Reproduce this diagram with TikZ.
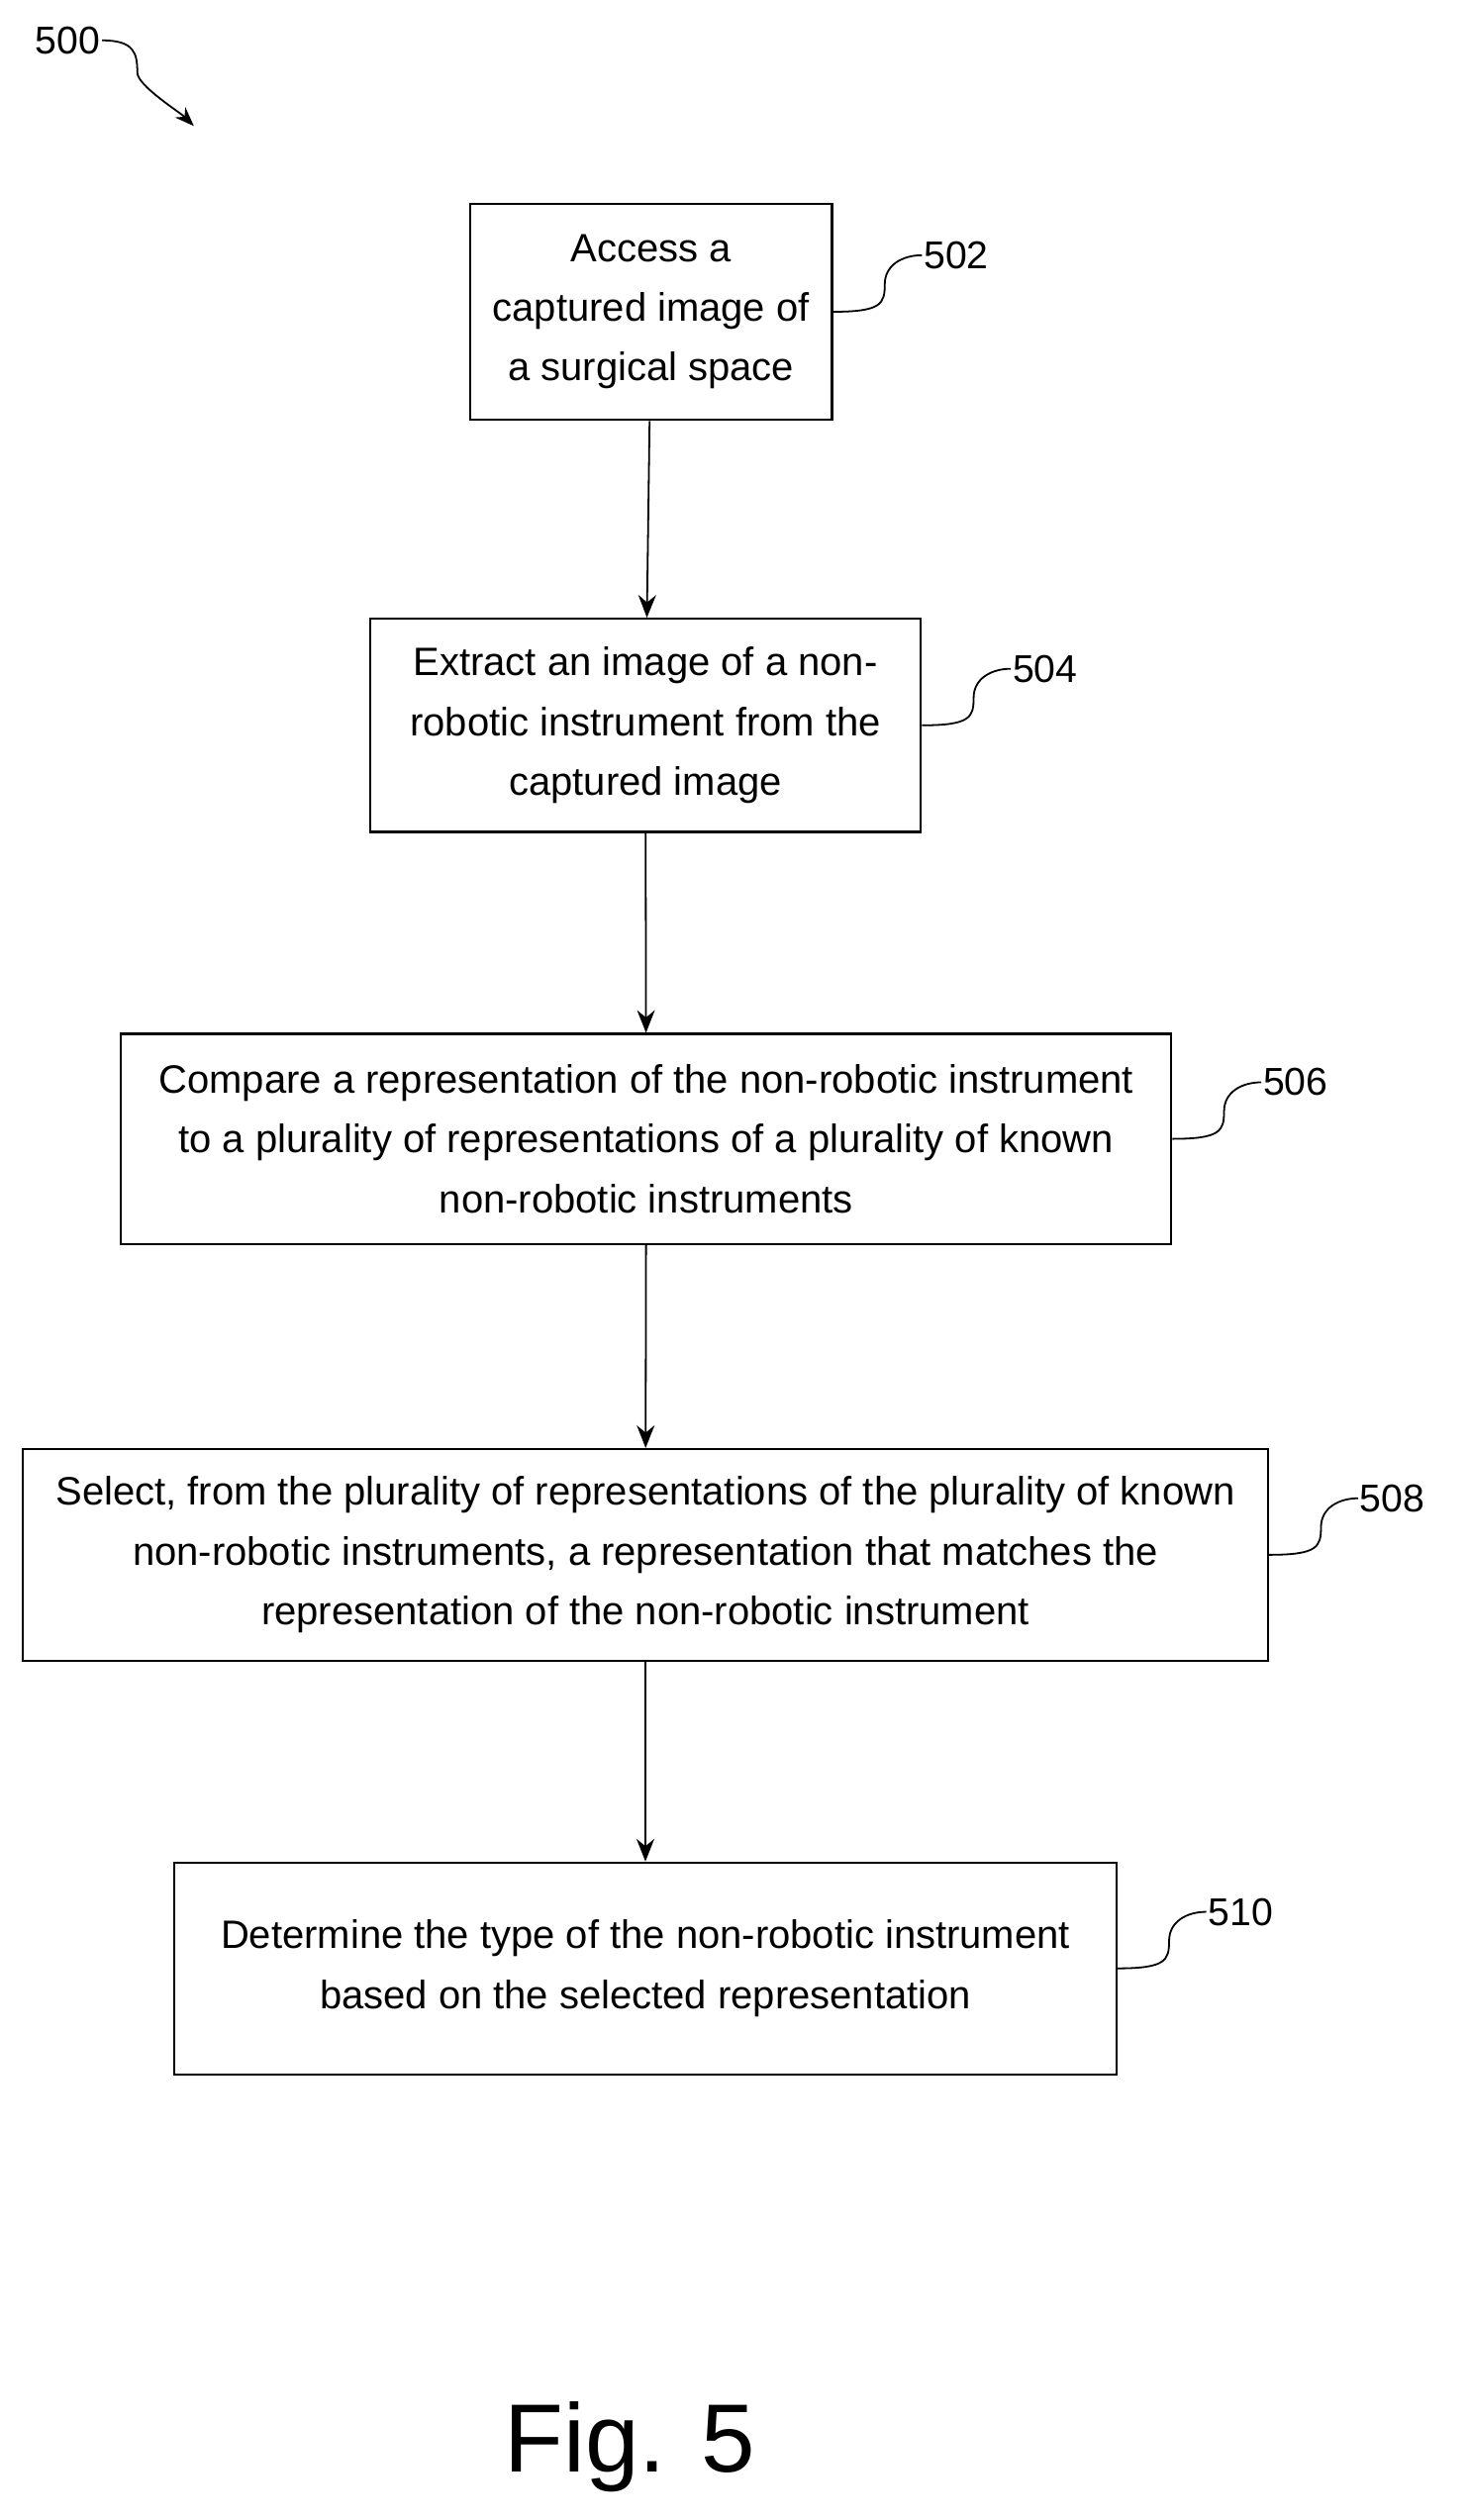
\documentclass[tikz,border=0pt]{standalone}
\usepackage{fontspec}
\setmainfont{Liberation Sans}
\usetikzlibrary{arrows.meta}
\begin{document}
\begin{tikzpicture}[x=1pt,y=-1pt,
 box/.style={draw,line width=1.3pt,align=center,font=\fontsize{24.5}{37}\selectfont,inner sep=0pt},
 lab/.style={font=\fontsize{24}{26}\selectfont,anchor=west,inner sep=1pt},
 arr/.style={-{Stealth[length=14pt,width=11pt]},line width=1.1pt},
 sq/.style={line width=1.1pt}]
\useasboundingbox (0,0) rectangle (909,1560);
\node[box,minimum width=224,minimum height=134] (b502) at (403,193) {Access a\\captured image of\\a surgical space};
\node[box,minimum width=341,minimum height=132] (b504) at (399.5,449) {Extract an image of a non-\\robotic instrument from the\\captured image};
\node[box,minimum width=650,minimum height=130] (b506) at (400,705) {Compare a representation of the non-robotic instrument\\to a plurality of representations of a plurality of known\\non-robotic instruments};
\node[box,minimum width=771,minimum height=131] (b508) at (399.5,962.5) {Select, from the plurality of representations of the plurality of known\\non-robotic instruments, a representation that matches the\\representation of the non-robotic instrument};
\node[box,minimum width=583,minimum height=131] (b510) at (399.5,1218.5) {Determine the type of the non-robotic instrument\\based on the selected representation};
\draw[arr] (b502) -- (b504);
\draw[arr] (b504) -- (b506);
\draw[arr] (b506) -- (b508);
\draw[arr] (b508) -- (b510);
\foreach \n in {502,504,506,508,510}{
 \coordinate (s\n) at ([xshift=55,yshift=35]b\n.east);
 \node[lab] (l\n) at (s\n) {\n};
 \draw[sq] (b\n.east) .. controls +(30,0) and +(0,12) .. ([xshift=32,yshift=17]b\n.east) .. controls +(0,-12) and +(-12,0) .. (l\n.west);
}
\node[lab,anchor=center] (l500) at (42,25) {500};
\coordinate (t500) at (120,78);
\draw[sq,-{Stealth[length=12pt,width=9pt]}] (l500.east) .. controls +(20,0) and +(0,-12) .. (85,45) .. controls +(0,8) and +(-8,-8) .. (t500);
\node[font=\fontsize{60}{64}\selectfont] (fig) at (390,1515) {Fig. 5};
\end{tikzpicture}
\end{document}
